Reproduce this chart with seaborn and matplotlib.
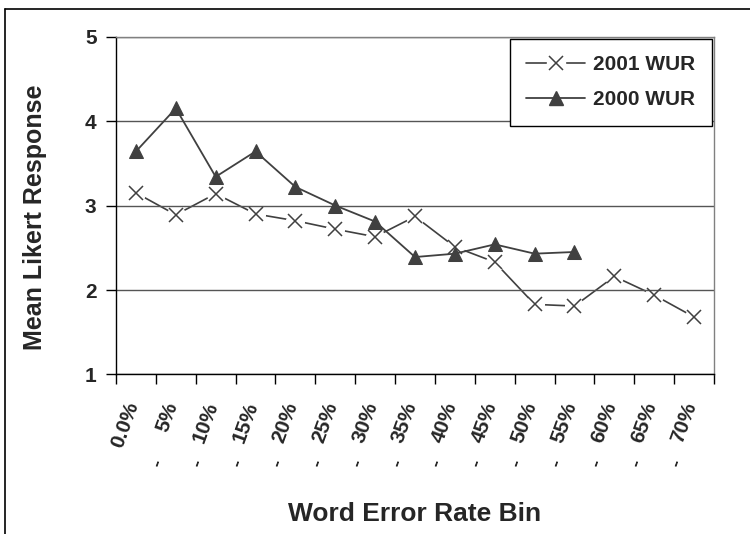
import numpy as np
import matplotlib
matplotlib.use("Agg")
import matplotlib.pyplot as plt
import seaborn as sns
from matplotlib.lines import Line2D
from matplotlib.legend_handler import HandlerTuple

# Datos
bins = ["0.0%", "5%", "10%", "15%", "20%", "25%", "30%", "35%",
        "40%", "45%", "50%", "55%", "60%", "65%", "70%"]
wur_2001 = [3.15, 2.89, 3.14, 2.90, 2.82, 2.72, 2.63, 2.87,
            2.51, 2.33, 1.83, 1.81, 2.16, 1.94, 1.68]
wur_2000 = [3.64, 4.15, 3.34, 3.64, 3.22, 3.00, 2.81, 2.39,
            2.43, 2.54, 2.43, 2.45]
y_ticks = [1, 2, 3, 4, 5]

sns.set_theme(style="white")
plt.rcParams["font.family"] = ["Liberation Sans", "DejaVu Sans"]
plt.rcParams["font.weight"] = "bold"

line_c = "#404040"

fig = plt.figure(figsize=(7.5, 5.34), dpi=100)
ax = fig.add_axes([0.1547, 0.2987, 0.7973, 0.6329])

x01 = np.arange(len(wur_2001))
x00 = np.arange(len(wur_2000))

# 2001: linea con huecos alrededor de las X
sns.lineplot(x=x01, y=wur_2001, ax=ax, color=line_c, lw=1.2,
             estimator=None, sort=False, zorder=1)
sns.lineplot(x=x01, y=wur_2001, ax=ax, lw=0, marker="o", markersize=13,
             markerfacecolor="white", markeredgecolor="white",
             estimator=None, sort=False, zorder=1.2)
sns.lineplot(x=x01, y=wur_2001, ax=ax, lw=0, marker="x", markersize=10,
             markeredgewidth=1.1, color=line_c, markeredgecolor=line_c,
             estimator=None, sort=False, zorder=3)
# 2000: linea continua con triangulos
sns.lineplot(x=x00, y=wur_2000, ax=ax, color=line_c, lw=1.3, marker="^",
             markersize=10, markeredgecolor=line_c, markerfacecolor=line_c,
             estimator=None, sort=False, zorder=3)

ax.set_xlim(-0.5, len(bins) - 0.5)
ax.set_ylim(1, 5)
ax.set_yticks(y_ticks)
ax.set_yticklabels([str(v) for v in y_ticks], fontsize=15, fontweight="bold")

# ticks en los limites de cada bin, etiquetas en el centro (como Excel)
ax.set_xticks(np.arange(-0.5, len(bins)))
ax.set_xticklabels([])
ax.set_xticks(np.arange(len(bins)) + 0.15, minor=True)
ax.set_xticklabels(bins, minor=True, rotation=70, ha="right",
                   fontsize=15, fontweight="bold")
ax.tick_params(axis="x", which="major", direction="out", length=7, width=1,
               color="black", bottom=True)
ax.tick_params(axis="x", which="minor", length=0, pad=18)
ax.tick_params(axis="y", direction="out", length=7, width=1, color="black",
               left=True, pad=7)

# guiones debajo de las etiquetas (restos del texto original de Excel)
for i in range(1, len(bins)):
    ax.annotate("-", xy=(i - 0.5, 0), xycoords=("data", "axes fraction"),
                xytext=(1, -64), textcoords="offset points",
                rotation=70, rotation_mode="anchor", ha="center", va="center",
                fontsize=15, fontweight="bold", annotation_clip=False)

ax.set_axisbelow("line")
ax.yaxis.grid(True, color="#555555", lw=1)
ax.xaxis.grid(False)

for s in ["left", "bottom"]:
    ax.spines[s].set_color("black")
    ax.spines[s].set_linewidth(1)
for s in ["right", "top"]:
    ax.spines[s].set_color("#808080")
    ax.spines[s].set_linewidth(1)

ax.set_xlabel("Word Error Rate Bin", fontsize=19, fontweight="bold")
ax.set_ylabel("Mean Likert Response", fontsize=18, fontweight="bold")
ax.xaxis.set_label_coords(0.5, -0.378)
ax.yaxis.set_label_coords(-0.115, 0.466)

h01 = (Line2D([], [], color=line_c, lw=1.2, marker="o", markersize=13,
              markerfacecolor="white", markeredgecolor="white"),
       Line2D([], [], ls="none", marker="x", markersize=10,
              markeredgewidth=1.1, color=line_c))
h00 = Line2D([], [], color=line_c, lw=1.3, marker="^", markersize=10,
             markerfacecolor=line_c, markeredgecolor=line_c)
leg = ax.legend([h01, h00], ["2001 WUR", "2000 WUR"],
                handler_map={tuple: HandlerTuple(ndivide=1, pad=0)},
                loc="upper right", borderaxespad=0.1, frameon=True,
                fancybox=False, framealpha=1, edgecolor="black",
                prop={"size": 15, "weight": "bold"},
                handlelength=2.8, handletextpad=0.4, labelspacing=0.75,
                borderpad=0.8)
leg.get_frame().set_linewidth(1)

# marco exterior del area del grafico (solo izquierda y arriba visibles)
fig.add_artist(Line2D([0.007, 0.007], [0, 0.984], color="black", lw=1.2,
                      transform=fig.transFigure))
fig.add_artist(Line2D([0.007, 1], [0.984, 0.984], color="black", lw=1.2,
                      transform=fig.transFigure))

fig.savefig("out.png", dpi=100)
